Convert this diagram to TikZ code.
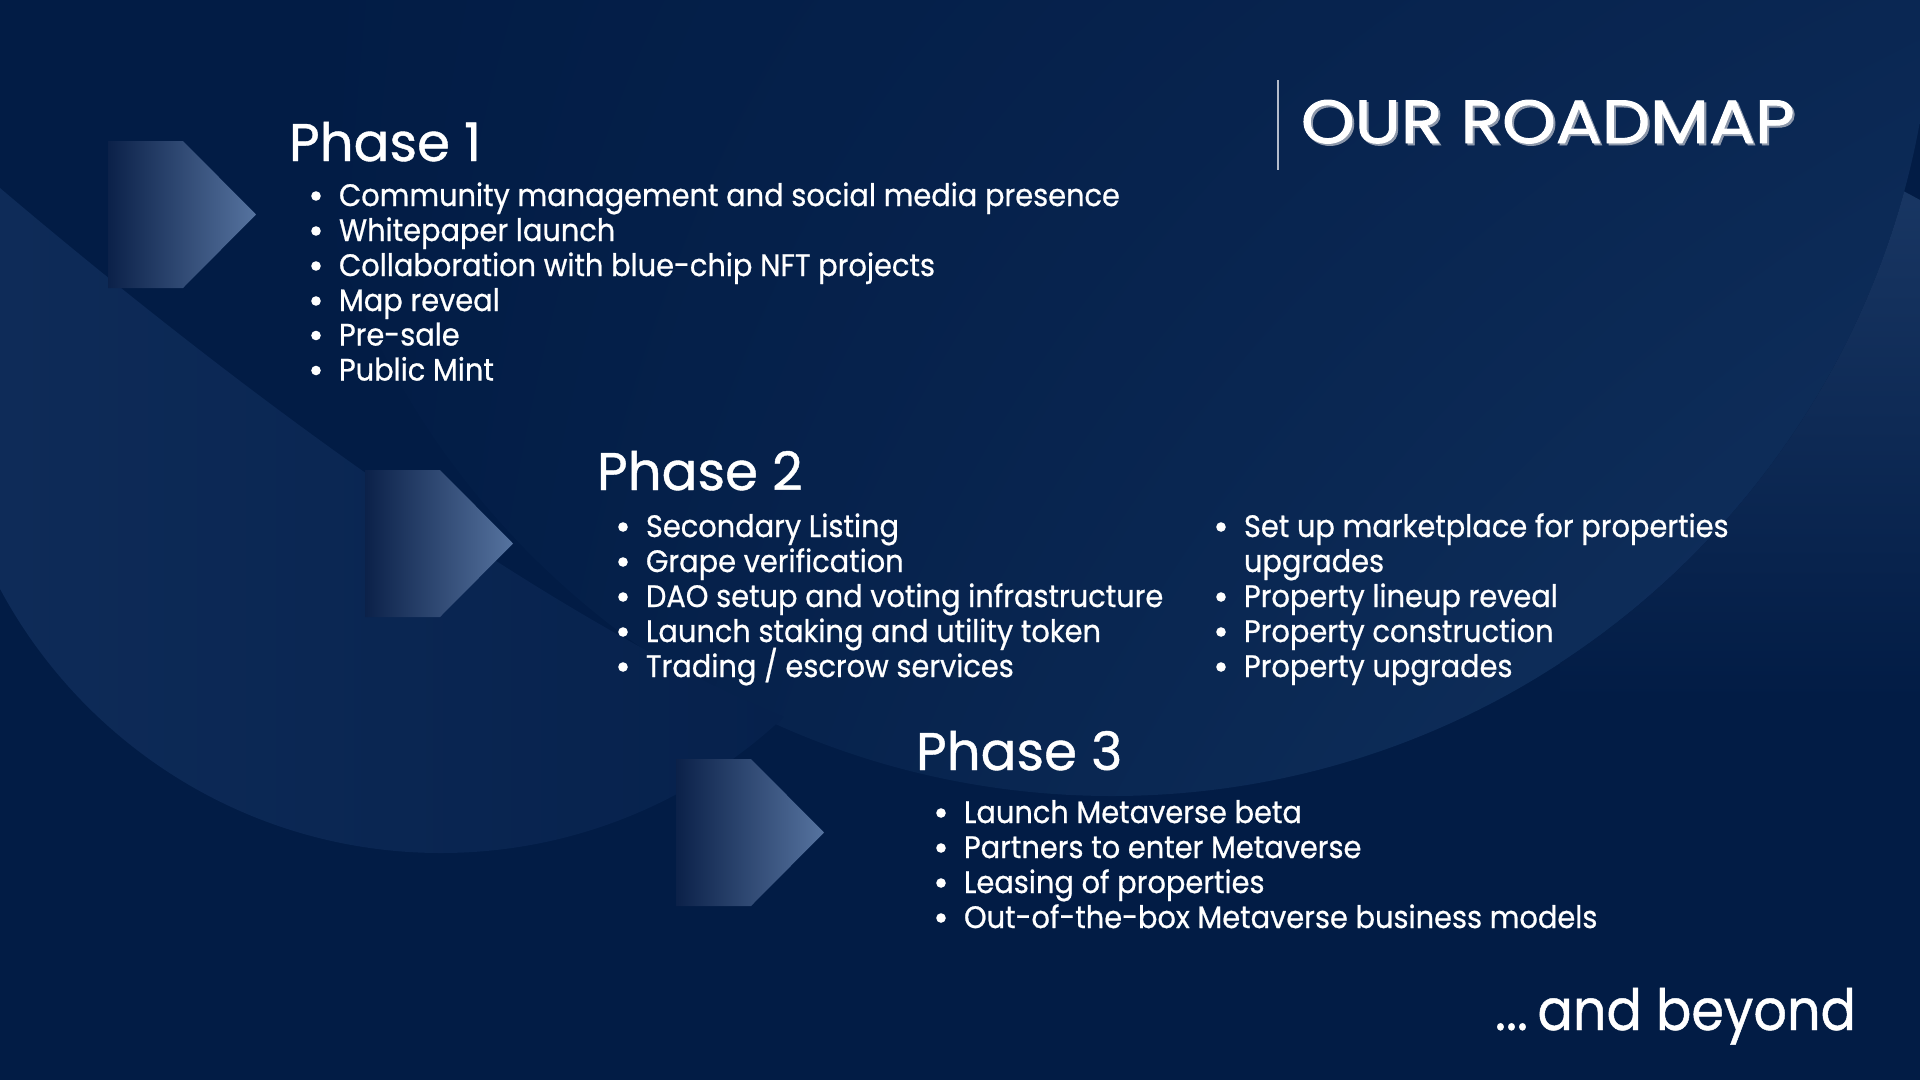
\documentclass[tikz,border=0pt]{standalone}
\usepackage{fontspec}
\setmainfont{Poppins}
\newfontfamily\headfont[FakeBold=0.8]{Poppins}
\newfontfamily\itemfont[FakeStretch=0.93,FakeBold=0.7]{Poppins}
\newfontfamily\beyondfont[FakeStretch=0.92,FakeBold=0.8]{Poppins}
\newfontfamily\titlefont[FakeStretch=1.12,FakeBold=1.6]{Poppins}
\usetikzlibrary{shadings}
\definecolor{bg}{HTML}{021C45}
\definecolor{bandL}{HTML}{0E2B58}
\definecolor{bandR}{HTML}{06214C}
\definecolor{arrowL}{HTML}{0B2149}
\definecolor{arrowR}{HTML}{56739F}
\definecolor{circMid}{HTML}{0A2753}
\definecolor{circLight}{HTML}{123360}
\definecolor{cornerLight}{HTML}{1A3865}
\definecolor{shadowgray}{HTML}{8C97AA}
\definecolor{rulegray}{HTML}{B4BCCB}
\tikzset{
  heading/.style={anchor=base west, inner sep=0pt, outer sep=0pt, text=white, font=\headfont\fontsize{53}{60}\selectfont},
  item/.style={anchor=base west, inner sep=0pt, outer sep=0pt, text=white, font=\itemfont\fontsize{31}{36}\selectfont},
  titletext/.style={anchor=base west, inner sep=0pt, outer sep=0pt, font=\titlefont\fontsize{61}{70}\selectfont},
  dot/.style={fill=white, draw=none},
  chevron/.style={left color=arrowL, right color=arrowR, draw=none},
}
\newcommand{\chevronat}[2]{%
  \shade[chevron] (#1,#2) -- ++(75,0) -- ++(73,73.5) -- ++(-73,73.5) -- ++(-75,0) -- cycle;}
\begin{document}
\begin{tikzpicture}[x=1pt,y=-1pt]
\useasboundingbox (0,0) rectangle (1920,1080);
% ---------- background ----------
\fill[bg] (0,0) rectangle (1920,1080);
% right big circle
\begin{scope}
  \clip (1112,-25) circle[radius=821pt];
  \shade[upper left=bg, upper right=circMid, lower left=bg, lower right=circLight] (291,0) rectangle (1933,800);
\end{scope}
% top-right lighter corner (outside the big circle, below the upper curve)
\begin{scope}
  \clip (1560,90) .. controls (1700,110) and (1830,150) .. (1920,200) -- (1920,1080) -- (1560,1080) -- cycle;
  \begin{scope}[even odd rule]
    \clip (1112,-25) circle[radius=821pt] (1400,0) rectangle (1920,1080);
    \shade[top color=cornerLight, bottom color=bg] (1560,150) rectangle (1920,700);
  \end{scope}
\end{scope}
% left band
\begin{scope}
  \clip (441,353) circle[radius=500pt];
  \shade[left color=bandL, right color=bandR] (0,188) .. controls (250,400) and (550,620) .. (786,718) -- (786,1080) -- (0,1080) -- cycle;
\end{scope}
% ---------- chevrons ----------
\chevronat{108}{141}
\chevronat{365}{470}
\chevronat{676}{759}
% ---------- title ----------
\coordinate (vtop) at (1278,80);
\coordinate (vbot) at (1278,170);
\draw[rulegray, line width=1.5pt] (vtop) -- (vbot);
\node[titletext, text=shadowgray] (titleshadow) at (1303,145) {OUR ROADMAP};
\node[titletext, text=white] (title) at (1301,143) {OUR ROADMAP};
% ---------- phase 1 ----------
\node[heading] (ph1) at (289,161) {Phase 1};
\node[item] (p1a) at (339,206) {Community management and social media presence};
\node[item] (p1b) at (339,241) {Whitepaper launch};
\node[item] (p1c) at (339,276) {Collaboration with blue-chip NFT projects};
\node[item] (p1d) at (339,311) {Map reveal};
\node[item] (p1e) at (339,345.5) {Pre-sale};
\node[item] (p1f) at (339,380.5) {Public Mint};
% ---------- phase 2 ----------
\node[heading] (ph2) at (597,490) {Phase 2};
\node[item] (p2a) at (646,537) {Secondary Listing};
\node[item] (p2b) at (646,572) {Grape verification};
\node[item] (p2c) at (646,607) {DAO setup and voting infrastructure};
\node[item] (p2d) at (646,642) {Launch staking and utility token};
\node[item] (p2e) at (646,677) {Trading / escrow services};
\node[item] (p2f) at (1244,537) {Set up marketplace for properties};
\node[item] (p2g) at (1244,572) {upgrades};
\node[item] (p2h) at (1244,607) {Property lineup reveal};
\node[item] (p2i) at (1244,642) {Property construction};
\node[item] (p2j) at (1244,677) {Property upgrades};
% ---------- phase 3 ----------
\node[heading] (ph3) at (916,770) {Phase 3};
\node[item] (p3a) at (964,823) {Launch Metaverse beta};
\node[item] (p3b) at (964,858) {Partners to enter Metaverse};
\node[item] (p3c) at (964,893) {Leasing of properties};
\node[item] (p3d) at (964,928) {Out-of-the-box Metaverse business models};
% ---------- bullets ----------
\foreach \n in {p1a,p1b,p1c,p1d,p1e,p1f,p2a,p2b,p2c,p2d,p2e,p2f,p2h,p2i,p2j,p3a,p3b,p3c,p3d}
  \fill[dot] ([xshift=-23pt,yshift=10pt]\n.base west) circle[radius=4.8pt];
% ---------- and beyond ----------
\node[heading, anchor=base east, font=\beyondfont\fontsize{57}{66}\selectfont] (beyond) at (1856,1030) {...\,and beyond};
\end{tikzpicture}
\end{document}
